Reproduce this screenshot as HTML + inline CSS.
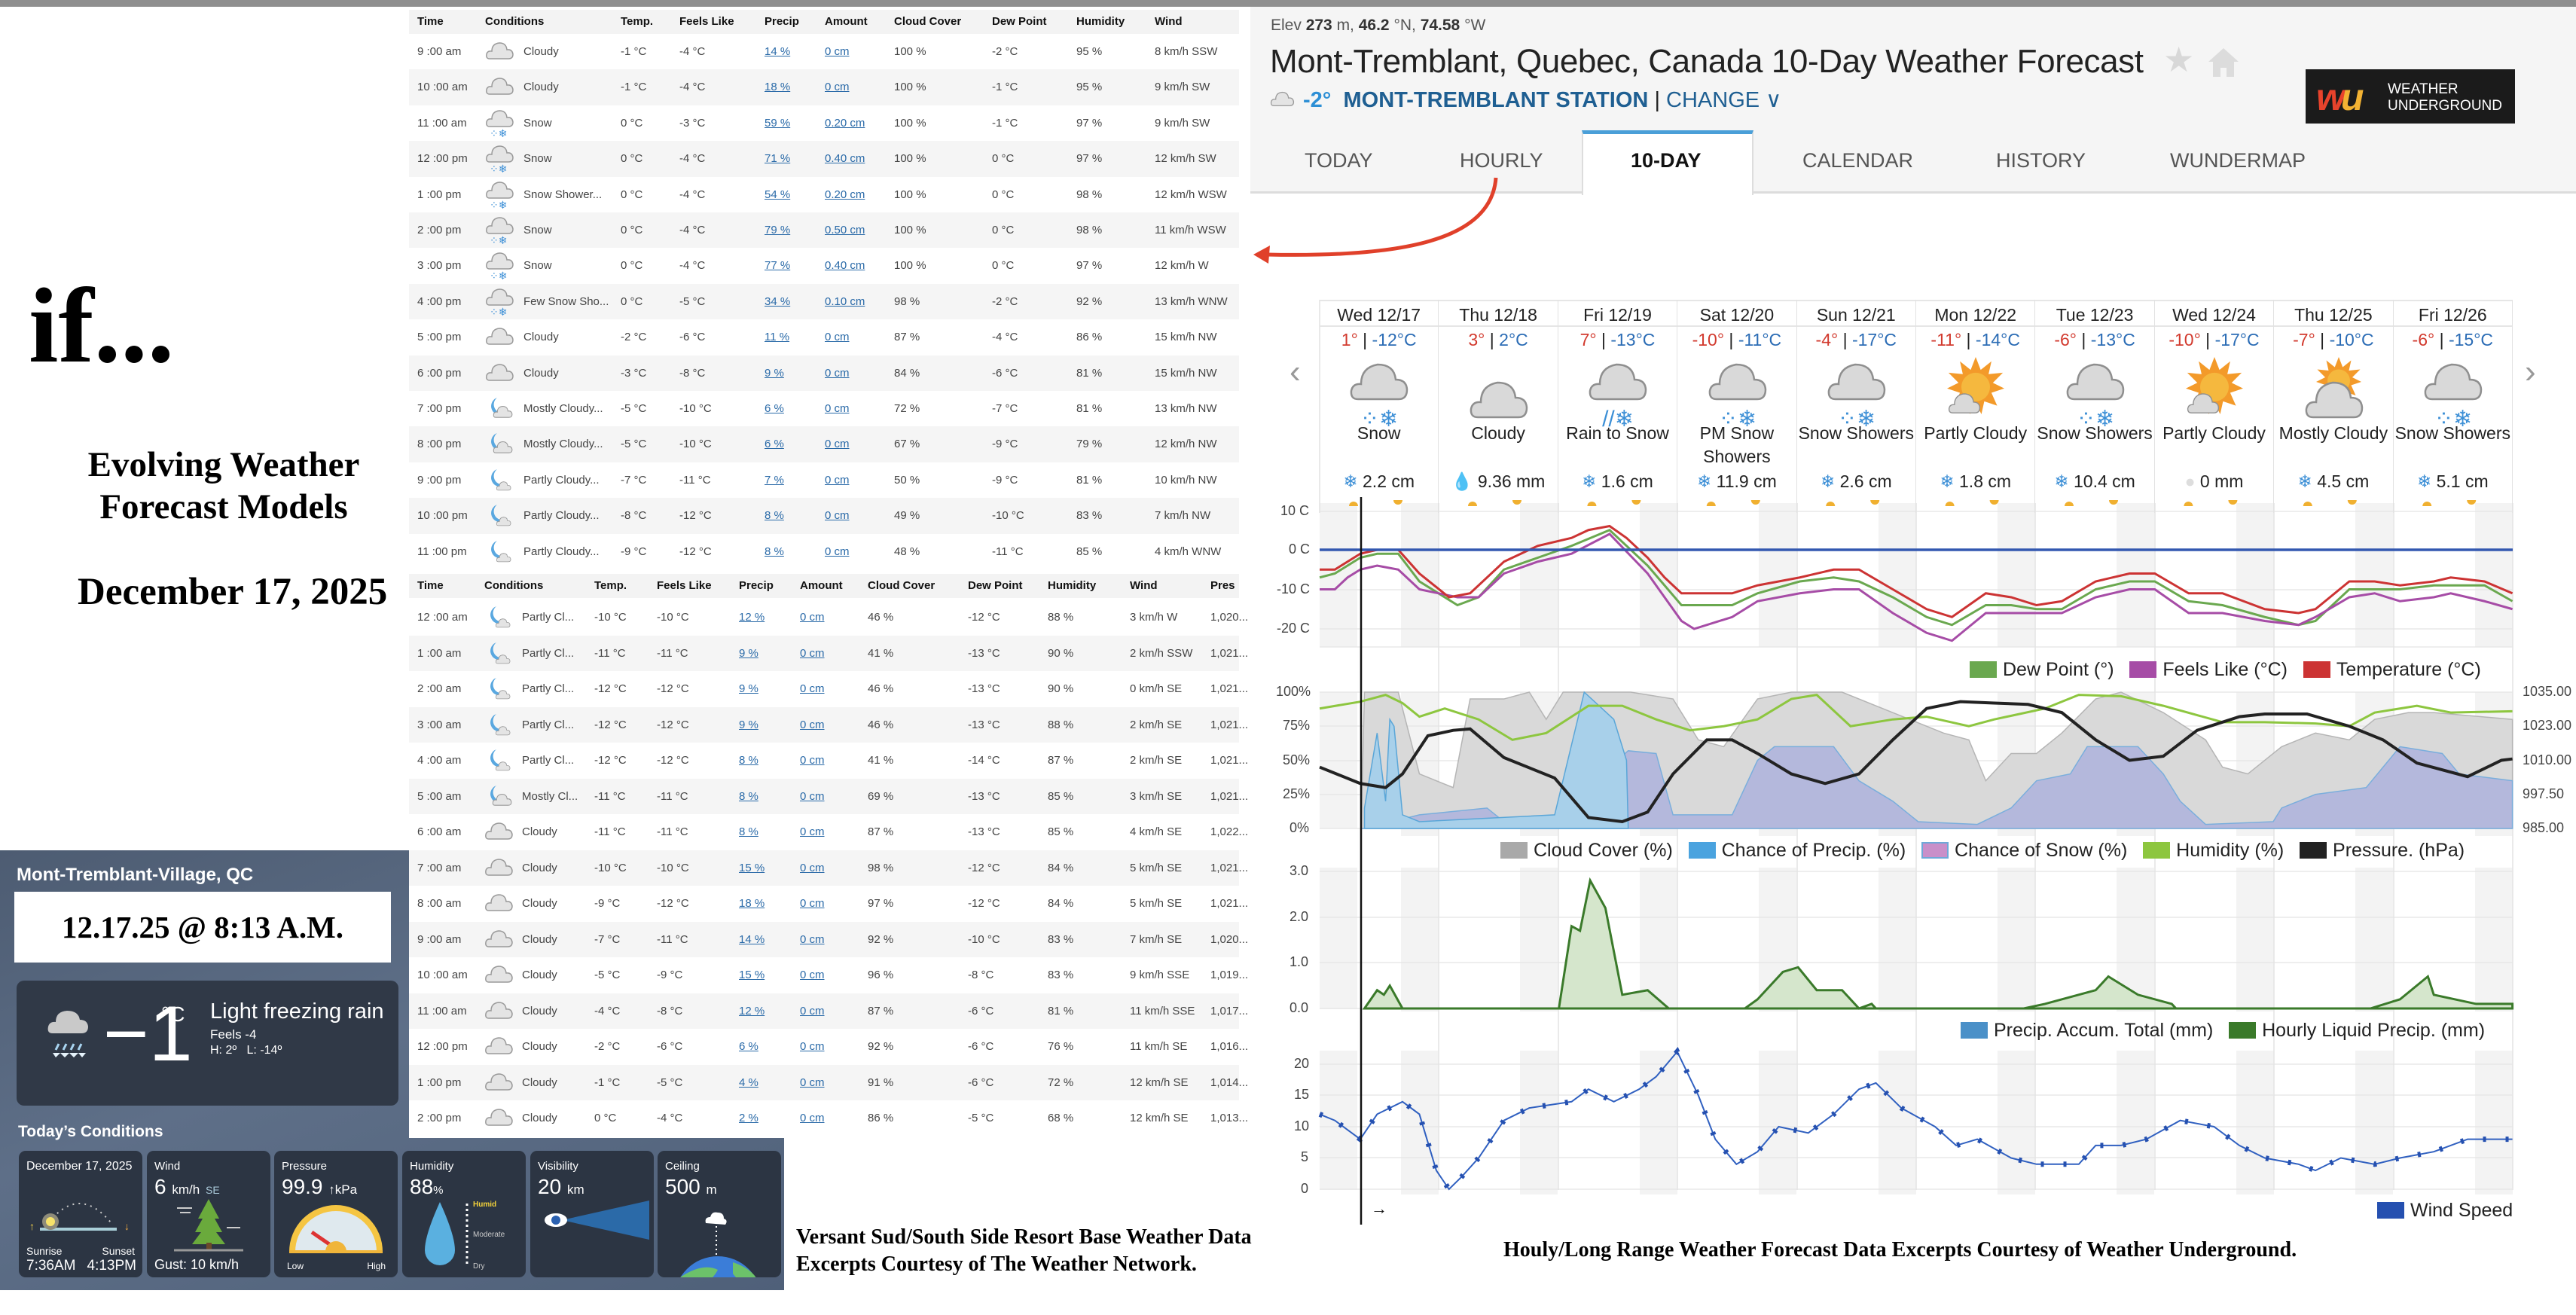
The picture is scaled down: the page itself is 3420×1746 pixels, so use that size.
<!DOCTYPE html>
<html><head><meta charset="utf-8">
<style>
*{box-sizing:border-box;margin:0;padding:0}
body{width:3420px;height:1746px;overflow:hidden;background:#fff;position:relative;font-family:"Liberation Sans",sans-serif;color:#222}
.a{position:absolute;white-space:nowrap}
.serif{font-family:"Liberation Serif",serif;font-weight:bold;color:#000}
.tbl{position:absolute;left:543px;width:1102px;background:#fff}
.r{position:absolute;left:0;width:1102px;height:47.4px;font-size:15px;color:#444;line-height:47px}
.r.s{background:#f5f5f5}
.r.h{font-weight:bold;color:#111;background:#f3f3f3;height:32px;line-height:32px;font-size:15px}
.r span{position:absolute;top:0}
.t1 span:nth-child(1){left:11px}.t1 span:nth-child(2){left:101px}.t1 span:nth-child(3){left:152px}.t1 span:nth-child(4){left:281px}.t1 span:nth-child(5){left:359px}.t1 span:nth-child(6){left:472px}.t1 span:nth-child(7){left:552px}.t1 span:nth-child(8){left:644px}.t1 span:nth-child(9){left:774px}.t1 span:nth-child(10){left:886px}.t1 span:nth-child(11){left:990px}
.t2 span:nth-child(1){left:11px}.t2 span:nth-child(2){left:100px}.t2 span:nth-child(3){left:150px}.t2 span:nth-child(4){left:246px}.t2 span:nth-child(5){left:329px}.t2 span:nth-child(6){left:438px}.t2 span:nth-child(7){left:519px}.t2 span:nth-child(8){left:609px}.t2 span:nth-child(9){left:742px}.t2 span:nth-child(10){left:848px}.t2 span:nth-child(11){left:957px}.t2 span:nth-child(12){left:1064px}
.r span:nth-child(6),.r span:nth-child(7){color:#2a6aa8;text-decoration:underline}
.h span:nth-child(6),.h span:nth-child(7){color:#111;text-decoration:none}
.r svg{vertical-align:middle;margin-top:-4px}
.day{position:absolute;top:398px;width:158.4px;height:283px;border-right:1px solid #e2e2e2;text-align:center;font-size:23px;color:#222}
.day .d{height:36px;line-height:36px;border-bottom:2px solid #e6e6e6;border-top:2px solid #e6e6e6}
.day .t{margin-top:4px;height:26px;line-height:26px}
.hi{color:#d23a2e}.lo{color:#2b6cb5}
.day .c{position:absolute;top:162px;width:100%;line-height:31px}
.day .p{position:absolute;top:228px;width:100%}
.sf{color:#3c8fd6}
.card{position:absolute;top:1528px;width:164px;height:168px;background:#2c3543;border-radius:9px;color:#fff;font-size:15px}
.card .l{position:absolute;left:10px;top:12px}
.card .v{position:absolute;left:10px;top:32px;font-size:28px}
.lg{position:absolute;font-size:25px;color:#222;white-space:nowrap}
.lg i{display:inline-block;width:36px;height:22px;vertical-align:-3px;margin-right:8px}
.ax{position:absolute;font-size:18px;color:#444;white-space:nowrap}
</style></head><body>
<svg width="0" height="0" style="position:absolute">
<symbol id="cl" viewBox="0 0 40 30"><path d="M6 26 Q1 26 2 20 Q3 15 9 16 Q9 6 19 5 Q28 5 29 14 Q36 13 37 20 Q37 26 31 26 Z" fill="#e4e4e4" stroke="#9a9a9a" stroke-width="1.5"/></symbol>
<symbol id="bc" viewBox="0 0 80 60"><path d="M12 54 Q2 54 3 43 Q5 33 16 34 Q16 12 38 8 Q60 8 62 28 Q76 28 77 41 Q77 54 66 54 Z" fill="#d9d9d9" stroke="#8f8f8f" stroke-width="2.5"/></symbol>
<symbol id="sun" viewBox="0 0 80 80"><polygon points="40,0 47,18 62,6 58,24 78,22 64,36 80,44 62,50 70,68 52,62 48,80 40,64 32,80 28,62 10,68 18,50 0,44 16,36 2,22 22,24 18,6 33,18" fill="#f39a2a"/><circle cx="40" cy="42" r="20" fill="#f5b83e"/></symbol>
</svg>

<div class="a" style="left:0;top:0;width:3420px;height:9px;background:#8f8f8f"></div>

<div class="a serif" style="left:38px;top:352px;font-size:142px;line-height:160px">if...</div>
<div class="a serif" style="left:0;width:594px;top:589px;font-size:47px;line-height:56px;text-align:center;white-space:normal">Evolving Weather<br>Forecast Models</div>
<div class="a serif" style="left:103px;top:758px;font-size:51px;line-height:56px">December 17, 2025</div>

<div class="a" style="left:0;top:1129px;width:1041px;height:584px;background:linear-gradient(160deg,#4d5c72 0%,#5e6f88 45%,#4f6079 100%)"></div>
<div class="a" style="left:22px;top:1148px;font-size:24px;font-weight:bold;color:#fff">Mont-Tremblant-Village, QC</div>
<div class="a serif" style="left:19px;top:1184px;width:500px;height:94px;background:#fff;text-align:center;font-size:41px;line-height:94px">12.17.25 @ 8:13 A.M.</div>
<div class="a" style="left:22px;top:1302px;width:507px;height:166px;background:#303947;border-radius:10px"></div>
<svg class="a" style="left:62px;top:1336px" width="64" height="70"><path d="M8 36 Q0 36 2 27 Q4 20 12 21 Q12 7 27 6 Q42 6 44 18 Q54 18 55 27 Q55 36 46 36Z" fill="#c9c9c9"/><g stroke="#a8d4f0" stroke-width="3"><line x1="16" y1="50" x2="12" y2="58"/><line x1="26" y1="50" x2="22" y2="58"/><line x1="36" y1="50" x2="32" y2="58"/><line x1="46" y1="50" x2="42" y2="58"/></g><path d="M8 62 H52 L47 68 L42 62 L36 68 L30 62 L24 68 L18 62 L12 68Z" fill="#e6f3fb"/></svg>
<div class="a" style="left:137px;top:1318px;font-size:104px;color:#fff;line-height:110px">−1</div>
<div class="a" style="left:214px;top:1331px;font-size:28px;color:#fff">°C</div>
<div class="a" style="left:279px;top:1327px;font-size:29px;color:#fff">Light freezing rain</div>
<div class="a" style="left:279px;top:1364px;font-size:17px;color:#fff">Feels -4</div>
<div class="a" style="left:279px;top:1386px;font-size:16px;color:#fff">H: 2º &nbsp; L: -14º</div>
<div class="a" style="left:24px;top:1491px;font-size:21px;font-weight:bold;color:#fff">Today’s Conditions</div>

<div class="card" style="left:25px"><div class="l" style="font-size:16px">December 17, 2025</div>
<svg class="a" style="left:10px;top:60px" width="150" height="50"><path d="M30 35 Q70 -15 112 35" fill="none" stroke="#ccc" stroke-width="2" stroke-dasharray="2 6"/><line x1="18" y1="44" x2="120" y2="44" stroke="#a9cfd8" stroke-width="4"/><circle cx="32" cy="34" r="11" fill="#8d8b7a"/><circle cx="32" cy="34" r="6" fill="#f6e36a"/><text x="4" y="45" fill="#f6d54c" font-size="14">↑</text><text x="130" y="45" fill="#f0a840" font-size="14">↓</text></svg>
<div class="a" style="left:10px;top:125px;font-size:14px">Sunrise</div><div class="a" style="right:10px;top:125px;font-size:14px">Sunset</div>
<div class="a" style="left:10px;top:142px;font-size:19px">7:36AM</div><div class="a" style="right:8px;top:142px;font-size:19px">4:13PM</div></div>
<div class="card" style="left:195px"><div class="l">Wind</div><div class="v">6 <span style="font-size:17px">km/h</span> <span style="font-size:14px;color:#a9c8d8">SE</span></div>
<svg class="a" style="left:30px;top:62px" width="110" height="72"><polygon points="52,2 38,28 44,28 34,46 42,46 30,62 74,62 62,46 70,46 60,28 66,28" fill="#6aaa3c"/><rect x="49" y="60" width="7" height="10" fill="#6b4a2a"/><line x1="6" y1="70" x2="98" y2="70" stroke="#999" stroke-width="3"/><path d="M10 14 H30 M14 20 H28 M76 40 H94" stroke="#ccc" stroke-width="2"/></svg>
<div class="a" style="left:10px;top:141px;font-size:18px">Gust: 10 km/h</div></div>
<div class="card" style="left:364px"><div class="l">Pressure</div><div class="v">99.9 <span style="font-size:17px">↑kPa</span></div>
<svg class="a" style="left:16px;top:64px" width="132" height="72"><path d="M4 70 A62 62 0 0 1 128 70Z" fill="#f5c542"/><path d="M12 70 A54 54 0 0 1 120 70Z" fill="#dfe9ee"/><line x1="66" y1="66" x2="34" y2="44" stroke="#d33" stroke-width="5"/><path d="M52 70 A14 14 0 0 1 80 70Z" fill="#f0b53a"/><rect x="4" y="68" width="124" height="4" fill="#f0b53a"/></svg>
<div class="a" style="left:17px;top:146px;font-size:12px">Low</div><div class="a" style="right:16px;top:146px;font-size:12px">High</div></div>
<div class="card" style="left:534px"><div class="l">Humidity</div><div class="v">88<span style="font-size:15px">%</span></div>
<svg class="a" style="left:20px;top:62px" width="140" height="100"><path d="M30 6 Q50 50 50 70 A20 20 0 0 1 10 70 Q10 50 30 6Z" fill="#5ab0e0"/><g stroke="#fff" stroke-width="3" stroke-dasharray="3 4"><line x1="66" y1="8" x2="66" y2="92"/></g><text x="74" y="12" fill="#f5d33a" font-size="10" font-weight="bold">Humid</text><text x="74" y="52" fill="#ccc" font-size="10">Moderate</text><text x="74" y="94" fill="#ccc" font-size="10">Dry</text></svg></div>
<div class="card" style="left:704px"><div class="l">Visibility</div><div class="v">20 <span style="font-size:17px">km</span></div>
<svg class="a" style="left:8px;top:66px" width="150" height="70"><polygon points="34,26 150,0 150,52" fill="#2b6aa8"/><ellipse cx="26" cy="26" rx="15" ry="9" fill="#fff"/><circle cx="26" cy="26" r="6" fill="#2a60b0"/></svg></div>
<div class="card" style="left:873px;overflow:hidden"><div class="l">Ceiling</div><div class="v">500 <span style="font-size:17px">m</span></div>
<svg class="a" style="left:0;top:78px" width="164" height="90"><path d="M64 18 Q62 10 70 10 Q72 2 80 4 Q88 4 88 12 Q94 14 90 20Z" fill="#fff"/><line x1="78" y1="22" x2="78" y2="60" stroke="#fff" stroke-width="2" stroke-dasharray="2 4"/><circle cx="80" cy="120" r="58" fill="#3b7dd8"/><path d="M30 90 Q60 70 80 80 Q70 100 40 110Z M100 70 Q130 80 135 100 Q110 100 100 85Z" fill="#6cc26a"/></svg></div>

<div class="tbl" style="top:11px;height:1500px"></div>
<div class="r h t1" style="left:543px;top:13px"><span>Time</span><span></span><span style="left:101px">Conditions</span><span>Temp.</span><span>Feels Like</span><span>Precip</span><span>Amount</span><span>Cloud Cover</span><span>Dew Point</span><span>Humidity</span><span>Wind</span></div>

<div class="r t1" style="left:543px;top:45px"><span>9 :00 am</span><span><svg width="40" height="30"><use href="#cl"/></svg></span><span>Cloudy</span><span>-1 °C</span><span>-4 °C</span><span>14 %</span><span>0 cm</span><span>100 %</span><span>-2 °C</span><span>95 %</span><span>8 km/h SSW</span></div>
<div class="r s t1" style="left:543px;top:92.4px"><span>10 :00 am</span><span><svg width="40" height="30"><use href="#cl"/></svg></span><span>Cloudy</span><span>-1 °C</span><span>-4 °C</span><span>18 %</span><span>0 cm</span><span>100 %</span><span>-1 °C</span><span>95 %</span><span>9 km/h SW</span></div>
<div class="r t1" style="left:543px;top:139.8px"><span>11 :00 am</span><span><svg width="40" height="40"><use href="#cl" width="40" height="30"/><text x="6" y="40" fill="#3c8fd6" font-size="14">⁘❄</text></svg></span><span>Snow</span><span>0 °C</span><span>-3 °C</span><span>59 %</span><span>0.20 cm</span><span>100 %</span><span>-1 °C</span><span>97 %</span><span>9 km/h SW</span></div>
<div class="r s t1" style="left:543px;top:187.2px"><span>12 :00 pm</span><span><svg width="40" height="40"><use href="#cl" width="40" height="30"/><text x="6" y="40" fill="#3c8fd6" font-size="14">⁘❄</text></svg></span><span>Snow</span><span>0 °C</span><span>-4 °C</span><span>71 %</span><span>0.40 cm</span><span>100 %</span><span>0 °C</span><span>97 %</span><span>12 km/h SW</span></div>
<div class="r t1" style="left:543px;top:234.6px"><span>1 :00 pm</span><span><svg width="40" height="40"><use href="#cl" width="40" height="30"/><text x="6" y="40" fill="#3c8fd6" font-size="14">⁘❄</text></svg></span><span>Snow Shower...</span><span>0 °C</span><span>-4 °C</span><span>54 %</span><span>0.20 cm</span><span>100 %</span><span>0 °C</span><span>98 %</span><span>12 km/h WSW</span></div>
<div class="r s t1" style="left:543px;top:282px"><span>2 :00 pm</span><span><svg width="40" height="40"><use href="#cl" width="40" height="30"/><text x="6" y="40" fill="#3c8fd6" font-size="14">⁘❄</text></svg></span><span>Snow</span><span>0 °C</span><span>-4 °C</span><span>79 %</span><span>0.50 cm</span><span>100 %</span><span>0 °C</span><span>98 %</span><span>11 km/h WSW</span></div>
<div class="r t1" style="left:543px;top:329.4px"><span>3 :00 pm</span><span><svg width="40" height="40"><use href="#cl" width="40" height="30"/><text x="6" y="40" fill="#3c8fd6" font-size="14">⁘❄</text></svg></span><span>Snow</span><span>0 °C</span><span>-4 °C</span><span>77 %</span><span>0.40 cm</span><span>100 %</span><span>0 °C</span><span>97 %</span><span>12 km/h W</span></div>
<div class="r s t1" style="left:543px;top:376.8px"><span>4 :00 pm</span><span><svg width="40" height="40"><use href="#cl" width="40" height="30"/><text x="6" y="40" fill="#3c8fd6" font-size="14">⁘❄</text></svg></span><span>Few Snow Sho...</span><span>0 °C</span><span>-5 °C</span><span>34 %</span><span>0.10 cm</span><span>98 %</span><span>-2 °C</span><span>92 %</span><span>13 km/h WNW</span></div>
<div class="r t1" style="left:543px;top:424.2px"><span>5 :00 pm</span><span><svg width="40" height="30"><use href="#cl"/></svg></span><span>Cloudy</span><span>-2 °C</span><span>-6 °C</span><span>11 %</span><span>0 cm</span><span>87 %</span><span>-4 °C</span><span>86 %</span><span>15 km/h NW</span></div>
<div class="r s t1" style="left:543px;top:471.6px"><span>6 :00 pm</span><span><svg width="40" height="30"><use href="#cl"/></svg></span><span>Cloudy</span><span>-3 °C</span><span>-8 °C</span><span>9 %</span><span>0 cm</span><span>84 %</span><span>-6 °C</span><span>81 %</span><span>15 km/h NW</span></div>
<div class="r t1" style="left:543px;top:519px"><span>7 :00 pm</span><span><svg width="40" height="34"><path d="M16 4 A12 12 0 1 0 30 22 A10 10 0 0 1 16 4Z" fill="#5aa8e0"/><use href="#cl" x="10" y="12" width="28" height="21"/></svg></span><span>Mostly Cloudy...</span><span>-5 °C</span><span>-10 °C</span><span>6 %</span><span>0 cm</span><span>72 %</span><span>-7 °C</span><span>81 %</span><span>13 km/h NW</span></div>
<div class="r s t1" style="left:543px;top:566.4px"><span>8 :00 pm</span><span><svg width="40" height="34"><path d="M16 4 A12 12 0 1 0 30 22 A10 10 0 0 1 16 4Z" fill="#5aa8e0"/><use href="#cl" x="10" y="12" width="28" height="21"/></svg></span><span>Mostly Cloudy...</span><span>-5 °C</span><span>-10 °C</span><span>6 %</span><span>0 cm</span><span>67 %</span><span>-9 °C</span><span>79 %</span><span>12 km/h NW</span></div>
<div class="r t1" style="left:543px;top:613.8px"><span>9 :00 pm</span><span><svg width="40" height="34"><path d="M16 4 A12 12 0 1 0 30 22 A10 10 0 0 1 16 4Z" fill="#5aa8e0"/><use href="#cl" x="14" y="18" width="22" height="16"/></svg></span><span>Partly Cloudy...</span><span>-7 °C</span><span>-11 °C</span><span>7 %</span><span>0 cm</span><span>50 %</span><span>-9 °C</span><span>81 %</span><span>10 km/h NW</span></div>
<div class="r s t1" style="left:543px;top:661.2px"><span>10 :00 pm</span><span><svg width="40" height="34"><path d="M16 4 A12 12 0 1 0 30 22 A10 10 0 0 1 16 4Z" fill="#5aa8e0"/><use href="#cl" x="14" y="18" width="22" height="16"/></svg></span><span>Partly Cloudy...</span><span>-8 °C</span><span>-12 °C</span><span>8 %</span><span>0 cm</span><span>49 %</span><span>-10 °C</span><span>83 %</span><span>7 km/h NW</span></div>
<div class="r t1" style="left:543px;top:708.6px"><span>11 :00 pm</span><span><svg width="40" height="34"><path d="M16 4 A12 12 0 1 0 30 22 A10 10 0 0 1 16 4Z" fill="#5aa8e0"/><use href="#cl" x="14" y="18" width="22" height="16"/></svg></span><span>Partly Cloudy...</span><span>-9 °C</span><span>-12 °C</span><span>8 %</span><span>0 cm</span><span>48 %</span><span>-11 °C</span><span>85 %</span><span>4 km/h WNW</span></div>

<div class="r h t2" style="left:543px;top:762px"><span>Time</span><span></span><span style="left:100px">Conditions</span><span>Temp.</span><span>Feels Like</span><span>Precip</span><span>Amount</span><span>Cloud Cover</span><span>Dew Point</span><span>Humidity</span><span>Wind</span><span>Pres</span></div>
<div class="r t2" style="left:543px;top:796px"><span>12 :00 am</span><span><svg width="40" height="34"><path d="M16 4 A12 12 0 1 0 30 22 A10 10 0 0 1 16 4Z" fill="#5aa8e0"/><use href="#cl" x="14" y="18" width="22" height="16"/></svg></span><span>Partly Cl...</span><span>-10 °C</span><span>-10 °C</span><span>12 %</span><span>0 cm</span><span>46 %</span><span>-12 °C</span><span>88 %</span><span>3 km/h W</span><span>1,020...</span></div>
<div class="r s t2" style="left:543px;top:843.5px"><span>1 :00 am</span><span><svg width="40" height="34"><path d="M16 4 A12 12 0 1 0 30 22 A10 10 0 0 1 16 4Z" fill="#5aa8e0"/><use href="#cl" x="14" y="18" width="22" height="16"/></svg></span><span>Partly Cl...</span><span>-11 °C</span><span>-11 °C</span><span>9 %</span><span>0 cm</span><span>41 %</span><span>-13 °C</span><span>90 %</span><span>2 km/h SSW</span><span>1,021...</span></div>
<div class="r t2" style="left:543px;top:891px"><span>2 :00 am</span><span><svg width="40" height="34"><path d="M16 4 A12 12 0 1 0 30 22 A10 10 0 0 1 16 4Z" fill="#5aa8e0"/><use href="#cl" x="14" y="18" width="22" height="16"/></svg></span><span>Partly Cl...</span><span>-12 °C</span><span>-12 °C</span><span>9 %</span><span>0 cm</span><span>46 %</span><span>-13 °C</span><span>90 %</span><span>0 km/h SE</span><span>1,021...</span></div>
<div class="r s t2" style="left:543px;top:938.5px"><span>3 :00 am</span><span><svg width="40" height="34"><path d="M16 4 A12 12 0 1 0 30 22 A10 10 0 0 1 16 4Z" fill="#5aa8e0"/><use href="#cl" x="14" y="18" width="22" height="16"/></svg></span><span>Partly Cl...</span><span>-12 °C</span><span>-12 °C</span><span>9 %</span><span>0 cm</span><span>46 %</span><span>-13 °C</span><span>88 %</span><span>2 km/h SE</span><span>1,021...</span></div>
<div class="r t2" style="left:543px;top:986px"><span>4 :00 am</span><span><svg width="40" height="34"><path d="M16 4 A12 12 0 1 0 30 22 A10 10 0 0 1 16 4Z" fill="#5aa8e0"/><use href="#cl" x="14" y="18" width="22" height="16"/></svg></span><span>Partly Cl...</span><span>-12 °C</span><span>-12 °C</span><span>8 %</span><span>0 cm</span><span>41 %</span><span>-14 °C</span><span>87 %</span><span>2 km/h SE</span><span>1,021...</span></div>
<div class="r s t2" style="left:543px;top:1033.5px"><span>5 :00 am</span><span><svg width="40" height="34"><path d="M16 4 A12 12 0 1 0 30 22 A10 10 0 0 1 16 4Z" fill="#5aa8e0"/><use href="#cl" x="10" y="12" width="28" height="21"/></svg></span><span>Mostly Cl...</span><span>-11 °C</span><span>-11 °C</span><span>8 %</span><span>0 cm</span><span>69 %</span><span>-13 °C</span><span>85 %</span><span>3 km/h SE</span><span>1,021...</span></div>
<div class="r t2" style="left:543px;top:1081px"><span>6 :00 am</span><span><svg width="40" height="30"><use href="#cl"/></svg></span><span>Cloudy</span><span>-11 °C</span><span>-11 °C</span><span>8 %</span><span>0 cm</span><span>87 %</span><span>-13 °C</span><span>85 %</span><span>4 km/h SE</span><span>1,022...</span></div>
<div class="r s t2" style="left:543px;top:1128.5px"><span>7 :00 am</span><span><svg width="40" height="30"><use href="#cl"/></svg></span><span>Cloudy</span><span>-10 °C</span><span>-10 °C</span><span>15 %</span><span>0 cm</span><span>98 %</span><span>-12 °C</span><span>84 %</span><span>5 km/h SE</span><span>1,021...</span></div>
<div class="r t2" style="left:543px;top:1176px"><span>8 :00 am</span><span><svg width="40" height="30"><use href="#cl"/></svg></span><span>Cloudy</span><span>-9 °C</span><span>-12 °C</span><span>18 %</span><span>0 cm</span><span>97 %</span><span>-12 °C</span><span>84 %</span><span>5 km/h SE</span><span>1,021...</span></div>
<div class="r s t2" style="left:543px;top:1223.5px"><span>9 :00 am</span><span><svg width="40" height="30"><use href="#cl"/></svg></span><span>Cloudy</span><span>-7 °C</span><span>-11 °C</span><span>14 %</span><span>0 cm</span><span>92 %</span><span>-10 °C</span><span>83 %</span><span>7 km/h SE</span><span>1,020...</span></div>
<div class="r t2" style="left:543px;top:1271px"><span>10 :00 am</span><span><svg width="40" height="30"><use href="#cl"/></svg></span><span>Cloudy</span><span>-5 °C</span><span>-9 °C</span><span>15 %</span><span>0 cm</span><span>96 %</span><span>-8 °C</span><span>83 %</span><span>9 km/h SSE</span><span>1,019...</span></div>
<div class="r s t2" style="left:543px;top:1318.5px"><span>11 :00 am</span><span><svg width="40" height="30"><use href="#cl"/></svg></span><span>Cloudy</span><span>-4 °C</span><span>-8 °C</span><span>12 %</span><span>0 cm</span><span>87 %</span><span>-6 °C</span><span>81 %</span><span>11 km/h SSE</span><span>1,017...</span></div>
<div class="r t2" style="left:543px;top:1366px"><span>12 :00 pm</span><span><svg width="40" height="30"><use href="#cl"/></svg></span><span>Cloudy</span><span>-2 °C</span><span>-6 °C</span><span>6 %</span><span>0 cm</span><span>92 %</span><span>-6 °C</span><span>76 %</span><span>11 km/h SE</span><span>1,016...</span></div>
<div class="r s t2" style="left:543px;top:1413.5px"><span>1 :00 pm</span><span><svg width="40" height="30"><use href="#cl"/></svg></span><span>Cloudy</span><span>-1 °C</span><span>-5 °C</span><span>4 %</span><span>0 cm</span><span>91 %</span><span>-6 °C</span><span>72 %</span><span>12 km/h SE</span><span>1,014...</span></div>
<div class="r t2" style="left:543px;top:1461px"><span>2 :00 pm</span><span><svg width="40" height="30"><use href="#cl"/></svg></span><span>Cloudy</span><span>0 °C</span><span>-4 °C</span><span>2 %</span><span>0 cm</span><span>86 %</span><span>-5 °C</span><span>68 %</span><span>12 km/h SE</span><span>1,013...</span></div>

<div class="a serif" style="left:1057px;top:1625px;font-size:28px;line-height:36px">Versant Sud/South Side Resort Base Weather Data<br>Excerpts Courtesy of The Weather Network.</div>
<div class="a serif" style="left:1996px;top:1644px;font-size:28px">Houly/Long Range Weather Forecast Data Excerpts Courtesy of Weather Underground.</div>

<div class="a" style="left:1660px;top:9px;width:1760px;height:248px;background:#f5f5f5;border-bottom:3px solid #dcdcdc"></div>
<div class="a" style="left:2100px;top:173px;width:228px;height:86px;background:#fff;border-top:5px solid #4a9fd8;border-left:2px solid #ddd;border-right:2px solid #ddd"></div>
<div class="a" style="left:1687px;top:22px;font-size:21px;color:#555">Elev <b style="color:#333">273</b> m, <b style="color:#333">46.2</b> °N, <b style="color:#333">74.58</b> °W</div>
<div class="a" style="left:1686px;top:57px;font-size:44px;letter-spacing:-0.4px;color:#222">Mont-Tremblant, Quebec, Canada 10-Day Weather Forecast</div>
<div class="a" style="left:2872px;top:52px;font-size:46px;color:#d8d8d8">★</div>
<svg class="a" style="left:2930px;top:62px" width="44" height="42"><path d="M22 2 L42 20 H36 V40 H26 V28 H18 V40 H8 V20 H2Z" fill="#dcdcdc"/></svg>
<svg class="a" style="left:1686px;top:118px" width="34" height="28"><use href="#cl" width="34" height="26"/></svg>
<div class="a" style="left:1730px;top:115px;font-size:29px;color:#2d8fd5;font-weight:bold">-2° &nbsp;<span style="color:#1f5f92">MONT-TREMBLANT STATION</span> <span style="color:#222;font-weight:normal">|</span> <span style="font-weight:normal;color:#1f5f92">CHANGE ∨</span></div>
<div class="a" style="left:3061px;top:92px;width:278px;height:72px;background:#1b1b1b"></div>
<div class="a" style="left:3075px;top:100px;font-size:50px;font-weight:bold;font-style:italic;color:#e8432c;letter-spacing:-6px">w<span style="color:#f2b233">u</span></div>
<div class="a" style="left:3170px;top:108px;font-size:19px;color:#fff;line-height:22px">WEATHER<br>UNDERGROUND</div>
<div class="a" style="left:1732px;top:198px;font-size:27px;color:#555">TODAY</div>
<div class="a" style="left:1938px;top:198px;font-size:27px;color:#555">HOURLY</div>
<div class="a" style="left:2165px;top:198px;font-size:27px;color:#111;font-weight:bold">10-DAY</div>
<div class="a" style="left:2393px;top:198px;font-size:27px;color:#555">CALENDAR</div>
<div class="a" style="left:2650px;top:198px;font-size:27px;color:#555">HISTORY</div>
<div class="a" style="left:2881px;top:198px;font-size:27px;color:#555">WUNDERMAP</div>

<svg class="a" style="left:0;top:0" width="3420" height="1746">
<path d="M1986,236 C1980,320 1860,342 1682,338" fill="none" stroke="#e0402a" stroke-width="5"/>
<polygon points="1664,338 1686,326 1684,350" fill="#e0402a"/>
<g fill="#f3f3f3">
<rect x="1752" y="668" width="50" height="191"/><rect x="1752" y="919" width="50" height="181"/><rect x="1752" y="1152" width="50" height="188"/><rect x="1752" y="1395" width="50" height="185"/>
</g>
<g id="bands" fill="#f3f3f3">
<rect x="1860" y="668" width="50" height="191"/><rect x="2018" y="668" width="50" height="191"/><rect x="2177" y="668" width="50" height="191"/><rect x="2335" y="668" width="50" height="191"/><rect x="2494" y="668" width="50" height="191"/><rect x="2652" y="668" width="50" height="191"/><rect x="2810" y="668" width="50" height="191"/><rect x="2969" y="668" width="50" height="191"/><rect x="3127" y="668" width="50" height="191"/><rect x="3286" y="668" width="50" height="191"/>
</g>
<use href="#bands" y="251"/><use href="#bands" y="484"/><use href="#bands" y="727"/>
<g stroke="#e8e8e8" stroke-width="1.5">
<line x1="1752" y1="679" x2="3336" y2="679"/><line x1="1752" y1="783" x2="3336" y2="783"/><line x1="1752" y1="835" x2="3336" y2="835"/><line x1="1752" y1="859" x2="3336" y2="859"/>
<line x1="1752" y1="919" x2="3336" y2="919"/><line x1="1752" y1="964" x2="3336" y2="964"/><line x1="1752" y1="1010" x2="3336" y2="1010"/><line x1="1752" y1="1055" x2="3336" y2="1055"/><line x1="1752" y1="1100" x2="3336" y2="1100"/>
<line x1="1752" y1="1157" x2="3336" y2="1157"/><line x1="1752" y1="1218" x2="3336" y2="1218"/><line x1="1752" y1="1278" x2="3336" y2="1278"/><line x1="1752" y1="1339" x2="3336" y2="1339"/>
<line x1="1752" y1="1413" x2="3336" y2="1413"/><line x1="1752" y1="1454" x2="3336" y2="1454"/><line x1="1752" y1="1496" x2="3336" y2="1496"/><line x1="1752" y1="1537" x2="3336" y2="1537"/><line x1="1752" y1="1579" x2="3336" y2="1579"/>
</g>
<g stroke="#e4e4e4" stroke-width="1.5">
<line x1="1910" y1="668" x2="1910" y2="1580"/><line x1="2069" y1="668" x2="2069" y2="1580"/><line x1="2227" y1="668" x2="2227" y2="1580"/><line x1="2386" y1="668" x2="2386" y2="1580"/><line x1="2544" y1="668" x2="2544" y2="1580"/><line x1="2702" y1="668" x2="2702" y2="1580"/><line x1="2861" y1="668" x2="2861" y2="1580"/><line x1="3019" y1="668" x2="3019" y2="1580"/><line x1="3178" y1="668" x2="3178" y2="1580"/><line x1="3336" y1="668" x2="3336" y2="1580"/>
</g>
<g transform="translate(1660,730) scale(1.1223,-5.25)" fill="none">
<polyline vector-effect="non-scaling-stroke" stroke="#6aa84f" stroke-width="3" points="82,-7 100,-6 115,-4 130,-2 150,-1 175,-1 200,-8 245,-14 270,-12 300,-5 340,-2 380,1 425,5 470,-4 510,-14 570,-14 600,-11 650,-8 690,-7 720,-8 760,-12 800,-17 830,-19 870,-14 900,-14 930,-15 960,-15 1000,-10 1040,-8 1070,-8 1110,-13 1150,-14 1200,-17 1240,-19 1260,-18 1300,-10 1330,-10 1360,-10 1400,-9 1420,-9 1460,-9 1493,-13"/>
<polyline vector-effect="non-scaling-stroke" stroke="#a64ca6" stroke-width="3" points="82,-10 100,-10 115,-7 130,-5 150,-4 175,-5 200,-10 245,-12 270,-12 300,-6 340,-3 380,-1 425,4 470,-6 510,-18 525,-20 570,-17 600,-13 650,-11 690,-10 720,-10 760,-16 800,-21 830,-23 870,-16 900,-16 930,-16 960,-16 1000,-12 1040,-10 1070,-10 1110,-16 1150,-16 1200,-18 1240,-19 1260,-17 1300,-12 1330,-11 1360,-13 1400,-12 1420,-11 1460,-13 1493,-15"/>
<polyline vector-effect="non-scaling-stroke" stroke="#cc3333" stroke-width="3" points="82,-5 100,-5 115,-3 130,-1 150,0 175,0 200,-6 235,-12 260,-11 300,-3 320,-1 340,1 380,3 400,5 425,6 445,3 470,-2 490,-7 510,-11 570,-11 600,-9 650,-7 690,-5 720,-5 760,-10 800,-15 830,-17 870,-11 900,-12 930,-14 960,-13 1000,-8 1040,-6 1070,-6 1110,-11 1150,-11 1200,-15 1240,-16 1260,-15 1300,-8 1330,-8 1360,-9 1400,-8 1420,-7 1460,-8 1493,-11"/>
</g>
<line x1="1752" y1="730" x2="3336" y2="730" stroke="#3358b0" stroke-width="3.5"/>
<g transform="translate(1660,1100) scale(1.1223,-1.81)">
<polygon vector-effect="non-scaling-stroke" fill="#d9d9d9" stroke="#b5b5b5" stroke-width="1.5" points="131,0 135,100 175,100 200,40 240,30 260,95 300,95 330,100 350,80 370,100 450,100 500,95 530,65 560,60 600,95 640,100 700,100 760,85 820,70 850,65 870,35 900,55 930,55 960,70 1000,95 1030,100 1080,85 1130,65 1150,45 1180,40 1220,60 1260,70 1300,65 1330,80 1370,85 1400,85 1493,80 1493,0"/>
<polygon vector-effect="non-scaling-stroke" fill="#b4b8dc" stroke="#7aaedc" stroke-width="1.5" points="131,0 135,0 200,10 280,15 300,5 330,5 360,10 447,57 480,55 500,10 570,10 600,50 620,60 690,60 720,35 760,20 790,5 860,3 900,15 930,35 970,40 990,60 1050,60 1080,40 1100,20 1130,3 1210,5 1220,15 1260,25 1320,30 1360,60 1410,55 1430,40 1493,35 1493,0"/>
<polygon vector-effect="non-scaling-stroke" fill="#a8d0ea" stroke="#5aa6d8" stroke-width="1.5" points="135,0 135,15 150,70 160,20 165,80 170,75 180,10 200,5 360,10 395,100 430,80 445,50 447,0"/>
<polyline vector-effect="non-scaling-stroke" fill="none" stroke="#8dc63f" stroke-width="3" points="82,88 130,93 160,98 180,92 200,82 230,88 270,80 310,65 350,70 400,90 440,90 480,80 520,72 560,75 600,80 640,95 670,98 710,75 760,80 800,82 850,75 880,80 940,88 980,98 1030,97 1080,90 1150,78 1200,78 1260,77 1300,75 1330,85 1380,90 1420,85 1493,86"/>
<polyline vector-effect="non-scaling-stroke" fill="none" stroke="#222" stroke-width="4" points="82,45 130,33 160,30 180,40 210,68 240,72 260,73 300,52 360,37 400,8 440,5 470,12 500,40 540,65 570,65 600,55 640,40 680,33 720,40 760,65 800,88 840,93 880,92 920,91 960,85 1000,65 1040,50 1080,53 1120,72 1170,82 1200,84 1250,84 1300,75 1340,65 1380,48 1440,38 1480,50 1493,51"/>
</g>
<g transform="translate(1660,1339) scale(1.1223,-60.7)">
<polygon vector-effect="non-scaling-stroke" fill="#d5e6cc" stroke="#3a7a2a" stroke-width="3" points="135,0 150,0.4 158,0.3 165,0.5 180,0 365,0 380,1.8 390,1.7 402,2.8 420,2.2 440,0.3 470,0.4 495,0 585,0 600,0.2 630,0.8 648,0.9 670,0.4 700,0.4 720,0 735,0.1 740,0 915,0 940,0.1 1000,0.4 1015,0.7 1050,0.3 1090,0.1 1095,0 1325,0 1360,0.2 1393,0.7 1400,0.3 1450,0.1 1493,0.1 1493,0"/>
</g>
<g transform="translate(1660,1579) scale(1.1223,-8.3)">
<polyline vector-effect="non-scaling-stroke" fill="none" stroke="#3060c0" stroke-width="2" points="82,12 100,11 130,8 150,12 180,14 200,12 220,3 235,0 250,2 270,5 300,11 330,13 380,14 400,16 430,14 460,16 480,18 505,22 530,15 550,8 575,4 600,6 625,10 660,9 690,12 720,16 740,17 770,13 810,10 835,7 860,8 900,5 930,4 980,4 1000,7 1030,7 1060,8 1100,11 1140,10 1170,7 1200,5 1240,4 1260,3 1290,5 1330,4 1360,5 1400,6 1440,8 1493,8"/>
<polyline vector-effect="non-scaling-stroke" fill="none" stroke="#2550b0" stroke-width="7" stroke-dasharray="4 26" points="82,12 100,11 130,8 150,12 180,14 200,12 220,3 235,0 250,2 270,5 300,11 330,13 380,14 400,16 430,14 460,16 480,18 505,22 530,15 550,8 575,4 600,6 625,10 660,9 690,12 720,16 740,17 770,13 810,10 835,7 860,8 900,5 930,4 980,4 1000,7 1030,7 1060,8 1100,11 1140,10 1170,7 1200,5 1240,4 1260,3 1290,5 1330,4 1360,5 1400,6 1440,8 1493,8"/>
</g>
<line x1="1807" y1="660" x2="1807" y2="1626" stroke="#111" stroke-width="2.5"/>
<text x="1820" y="1612" font-size="22" fill="#111">→</text>
<g>
<use href="#bc" x="1791" y="476" width="80" height="60"/>
<use href="#bc" x="1950" y="500" width="80" height="60"/>
<use href="#bc" x="2108" y="476" width="80" height="60"/>
<use href="#bc" x="2267" y="476" width="80" height="60"/>
<use href="#bc" x="2425" y="476" width="80" height="60"/>
<use href="#sun" x="2585" y="474" width="76" height="76"/><use href="#bc" x="2586" y="518" width="44" height="34"/>
<use href="#bc" x="2742" y="476" width="80" height="60"/>
<use href="#sun" x="2902" y="474" width="76" height="76"/><use href="#bc" x="2903" y="518" width="44" height="34"/>
<use href="#sun" x="3075" y="474" width="60" height="60"/><use href="#bc" x="3059" y="500" width="80" height="60"/>
<use href="#bc" x="3217" y="476" width="80" height="60"/>
</g>
<g fill="#3c8fd6" font-size="30" text-anchor="middle">
<text x="1831" y="566">⁘❄</text><text x="2148" y="566">//❄</text><text x="2307" y="566">⁘❄</text><text x="2465" y="566">⁘❄</text><text x="2782" y="566">⁘❄</text><text x="3257" y="566">⁘❄</text>
</g>
<g fill="#f0b030">
<path d="M1791 672 a6 6 0 0 1 12 0z"/><path d="M1850 664 a6 6 0 0 0 12 0z"/>
</g>
<g id="suns" fill="#f0b030"><path d="M1949 672 a6 6 0 0 1 12 0z"/><path d="M2008 664 a6 6 0 0 0 12 0z"/></g>
<use href="#suns" x="158.4"/><use href="#suns" x="316.8"/><use href="#suns" x="475.2"/><use href="#suns" x="633.6"/><use href="#suns" x="792"/><use href="#suns" x="950.4"/><use href="#suns" x="1108.8"/><use href="#suns" x="1267.2"/>
<text x="1712" y="508" font-size="44" fill="#999">‹</text><text x="3352" y="508" font-size="44" fill="#999">›</text>
<line x1="1752" y1="398" x2="1752" y2="681" stroke="#e2e2e2" stroke-width="1.5"/>
</svg>

<div class="day" style="left:1752px"><div class="d">Wed 12/17</div><div class="t"><span class="hi">1°</span> | <span class="lo">-12°C</span></div><div class="c">Snow</div><div class="p"><span class="sf">❄</span> 2.2 cm</div></div>
<div class="day" style="left:1910.4px"><div class="d">Thu 12/18</div><div class="t"><span class="hi">3°</span> | <span class="lo">2°C</span></div><div class="c">Cloudy</div><div class="p"><span class="sf">💧</span> 9.36 mm</div></div>
<div class="day" style="left:2068.8px"><div class="d">Fri 12/19</div><div class="t"><span class="hi">7°</span> | <span class="lo">-13°C</span></div><div class="c">Rain to Snow</div><div class="p"><span class="sf">❄</span> 1.6 cm</div></div>
<div class="day" style="left:2227.2px"><div class="d">Sat 12/20</div><div class="t"><span class="hi">-10°</span> | <span class="lo">-11°C</span></div><div class="c">PM Snow<br>Showers</div><div class="p"><span class="sf">❄</span> 11.9 cm</div></div>
<div class="day" style="left:2385.6px"><div class="d">Sun 12/21</div><div class="t"><span class="hi">-4°</span> | <span class="lo">-17°C</span></div><div class="c">Snow Showers</div><div class="p"><span class="sf">❄</span> 2.6 cm</div></div>
<div class="day" style="left:2544px"><div class="d">Mon 12/22</div><div class="t"><span class="hi">-11°</span> | <span class="lo">-14°C</span></div><div class="c">Partly Cloudy</div><div class="p"><span class="sf">❄</span> 1.8 cm</div></div>
<div class="day" style="left:2702.4px"><div class="d">Tue 12/23</div><div class="t"><span class="hi">-6°</span> | <span class="lo">-13°C</span></div><div class="c">Snow Showers</div><div class="p"><span class="sf">❄</span> 10.4 cm</div></div>
<div class="day" style="left:2860.8px"><div class="d">Wed 12/24</div><div class="t"><span class="hi">-10°</span> | <span class="lo">-17°C</span></div><div class="c">Partly Cloudy</div><div class="p"><span style="color:#ddd">●</span> 0 mm</div></div>
<div class="day" style="left:3019.2px"><div class="d">Thu 12/25</div><div class="t"><span class="hi">-7°</span> | <span class="lo">-10°C</span></div><div class="c">Mostly Cloudy</div><div class="p"><span class="sf">❄</span> 4.5 cm</div></div>
<div class="day" style="left:3177.6px;overflow:hidden"><div class="d">Fri 12/26</div><div class="t"><span class="hi">-6°</span> | <span class="lo">-15°C</span></div><div class="c">Snow Showers</div><div class="p"><span class="sf">❄</span> 5.1 cm</div></div>

<div class="ax" style="left:1700px;top:668px">10 C</div>
<div class="ax" style="left:1711px;top:719px">0 C</div>
<div class="ax" style="left:1695px;top:772px">-10 C</div>
<div class="ax" style="left:1695px;top:824px">-20 C</div>
<div class="ax" style="left:1694px;top:908px">100%</div>
<div class="ax" style="left:1703px;top:953px">75%</div>
<div class="ax" style="left:1703px;top:999px">50%</div>
<div class="ax" style="left:1703px;top:1044px">25%</div>
<div class="ax" style="left:1712px;top:1089px">0%</div>
<div class="ax" style="left:3349px;top:908px">1035.00</div>
<div class="ax" style="left:3349px;top:953px">1023.00</div>
<div class="ax" style="left:3349px;top:999px">1010.00</div>
<div class="ax" style="left:3349px;top:1044px">997.50</div>
<div class="ax" style="left:3349px;top:1089px">985.00</div>
<div class="ax" style="left:1712px;top:1146px">3.0</div>
<div class="ax" style="left:1712px;top:1207px">2.0</div>
<div class="ax" style="left:1712px;top:1267px">1.0</div>
<div class="ax" style="left:1712px;top:1328px">0.0</div>
<div class="ax" style="left:1718px;top:1402px">20</div>
<div class="ax" style="left:1718px;top:1443px">15</div>
<div class="ax" style="left:1718px;top:1485px">10</div>
<div class="ax" style="left:1727px;top:1526px">5</div>
<div class="ax" style="left:1727px;top:1568px">0</div>

<div class="lg" style="left:2615px;top:875px"><i style="background:#6aa84f"></i>Dew Point (°) &nbsp; <i style="background:#a64ca6"></i>Feels Like (°C) &nbsp; <i style="background:#cc3333"></i>Temperature (°C)</div>
<div class="lg" style="left:1992px;top:1115px"><i style="background:#a9a9a9"></i>Cloud Cover (%) &nbsp; <i style="background:#4aa3df"></i>Chance of Precip. (%) &nbsp; <i style="background:#c98fc9;border:2px solid #6fa8d8"></i>Chance of Snow (%) &nbsp; <i style="background:#8dc63f"></i>Humidity (%) &nbsp; <i style="background:#222"></i>Pressure. (hPa)</div>
<div class="lg" style="left:2603px;top:1354px"><i style="background:#4a90c8"></i>Precip. Accum. Total (mm) &nbsp; <i style="background:#3a7a2a"></i>Hourly Liquid Precip. (mm)</div>
<div class="lg" style="left:3156px;top:1593px"><i style="background:#2550b0"></i>Wind Speed</div>
</body></html>
